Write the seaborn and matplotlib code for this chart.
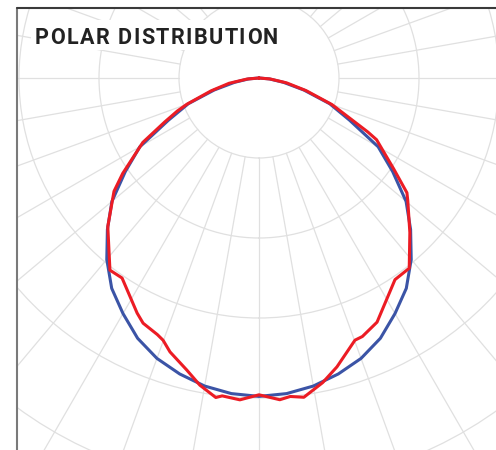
import matplotlib
matplotlib.use("Agg")
import matplotlib.pyplot as plt
from matplotlib.lines import Line2D
from matplotlib.patches import Rectangle
import numpy as np
import seaborn as sns

# angles in degrees, 0 = straight down, positive = right side
blue_deg = [-90, -85, -80, -75, -70, -65, -60, -55, -50, -45, -40, -35, -30, -25, -20, -15, -10, -5,
            0, 5, 10, 15, 20, 25, 30, 35, 40, 45, 50, 55, 60, 65, 70, 75, 80, 85, 90]
blue_val = [0, 13, 31, 58, 94, 125, 172, 204, 240, 268, 296, 321, 340, 359, 373, 383, 391, 396,
            398, 396, 391, 383, 373, 359, 340, 321, 296, 268, 240, 204, 172, 125, 94, 58, 31, 13, 0]

red_deg = [-90, -85, -80, -75, -70, -68, -65, -61, -55, -52, -45.5, -37.8, -34.4, -27.4, -25.3,
           -21.6, -20.1, -18, -13.9, -10.9, -7.7, -6.6, -3.4, 0, 3.7, 5.6, 8, 11.8, 15.1, 20.1,
           21.8, 25.8, 34, 38.3, 44.3, 50.5, 52.2, 56, 62.3, 63.6, 70, 75, 80, 85, 90]
red_val = [0, 15, 38, 62, 96, 110, 130, 166, 208, 230, 265, 304, 303, 331, 339,
           345, 349, 360, 376, 391, 403, 400, 403, 396, 403, 400, 403, 389, 374, 349,
           348, 339, 304, 303, 270, 241, 234, 203, 166, 152, 97, 61, 35, 14, 0]

ring_values = [100, 200, 300, 400, 511]
spoke_deg = np.arange(0, 360, 10)
title = "POLAR DISTRIBUTION"

W, H = 496, 450
cx, cy = 259, 78          # pole position in pixels (from top-left)
R_PX = 480                # axes radius in pixels
R_MAX = 600

sns.set_theme(style="white")
fig = plt.figure(figsize=(W / 100, H / 100), dpi=100)

ax = fig.add_axes([(cx - R_PX) / W, (H - cy - R_PX) / H, 2 * R_PX / W, 2 * R_PX / H],
                  projection="polar")
ax.set_theta_zero_location("S")
ax.set_ylim(0, R_MAX)
ax.set_rgrids(ring_values)
ax.set_yticklabels([])
ax.set_xticks([])
ax.xaxis.grid(False)
ax.yaxis.grid(True, color="#e0e0e0", linewidth=0.9)
ax.spines["polar"].set_visible(False)
ax.patch.set_alpha(0)

for d in spoke_deg:
    t = np.deg2rad(d)
    ax.plot([t, t], [ring_values[0], R_MAX], color="#e0e0e0", linewidth=0.9, zorder=1)

sns.lineplot(x=np.deg2rad(blue_deg), y=blue_val, ax=ax, sort=False, estimator=None,
             color="#3b54a6", linewidth=2.2, zorder=3)
sns.lineplot(x=np.deg2rad(red_deg), y=red_val, ax=ax, sort=False, estimator=None,
             color="#ec1c24", linewidth=2.2, zorder=4)

# crop area outside the frame
fig.add_artist(Rectangle((0, 0), 17 / W, 1, transform=fig.transFigure,
                         facecolor="white", edgecolor="none", zorder=20))
fig.add_artist(Rectangle((0, 1 - 8 / H), 1, 8 / H, transform=fig.transFigure,
                         facecolor="white", edgecolor="none", zorder=20))
fig.add_artist(Line2D([17 / W, 17 / W], [0, 1 - 8 / H], transform=fig.transFigure,
                      color="#7a7a7a", linewidth=1.5, zorder=21))
fig.add_artist(Line2D([17 / W, 1], [1 - 8 / H, 1 - 8 / H], transform=fig.transFigure,
                      color="#3a3a3a", linewidth=1.5, zorder=21))

# title with letter spacing
fig.add_artist(Rectangle((31 / W, 1 - 50 / H), 250 / W, 30 / H, transform=fig.transFigure,
                         facecolor="white", edgecolor="none", zorder=21))
renderer = fig.canvas.get_renderer()
x = 35.0
spacing = 1.45
for ch in title:
    t = fig.text(x / W, 1 - 44 / H, ch, family=["Roboto", "DejaVu Sans"],
                 fontweight="bold", fontsize=15.5, color="#222222",
                 va="baseline", ha="left", zorder=22)
    if ch == " ":
        w = fig.text(0, 0, "I I", family=["Roboto"], fontweight="bold", fontsize=15.5)
        ww = w.get_window_extent(renderer).width
        wi = fig.text(0, 0, "II", family=["Roboto"], fontweight="bold", fontsize=15.5)
        ww -= wi.get_window_extent(renderer).width
        w.remove()
        wi.remove()
        x += ww + spacing
    else:
        x += t.get_window_extent(renderer).width + spacing

fig.savefig("out.png", dpi=100)
